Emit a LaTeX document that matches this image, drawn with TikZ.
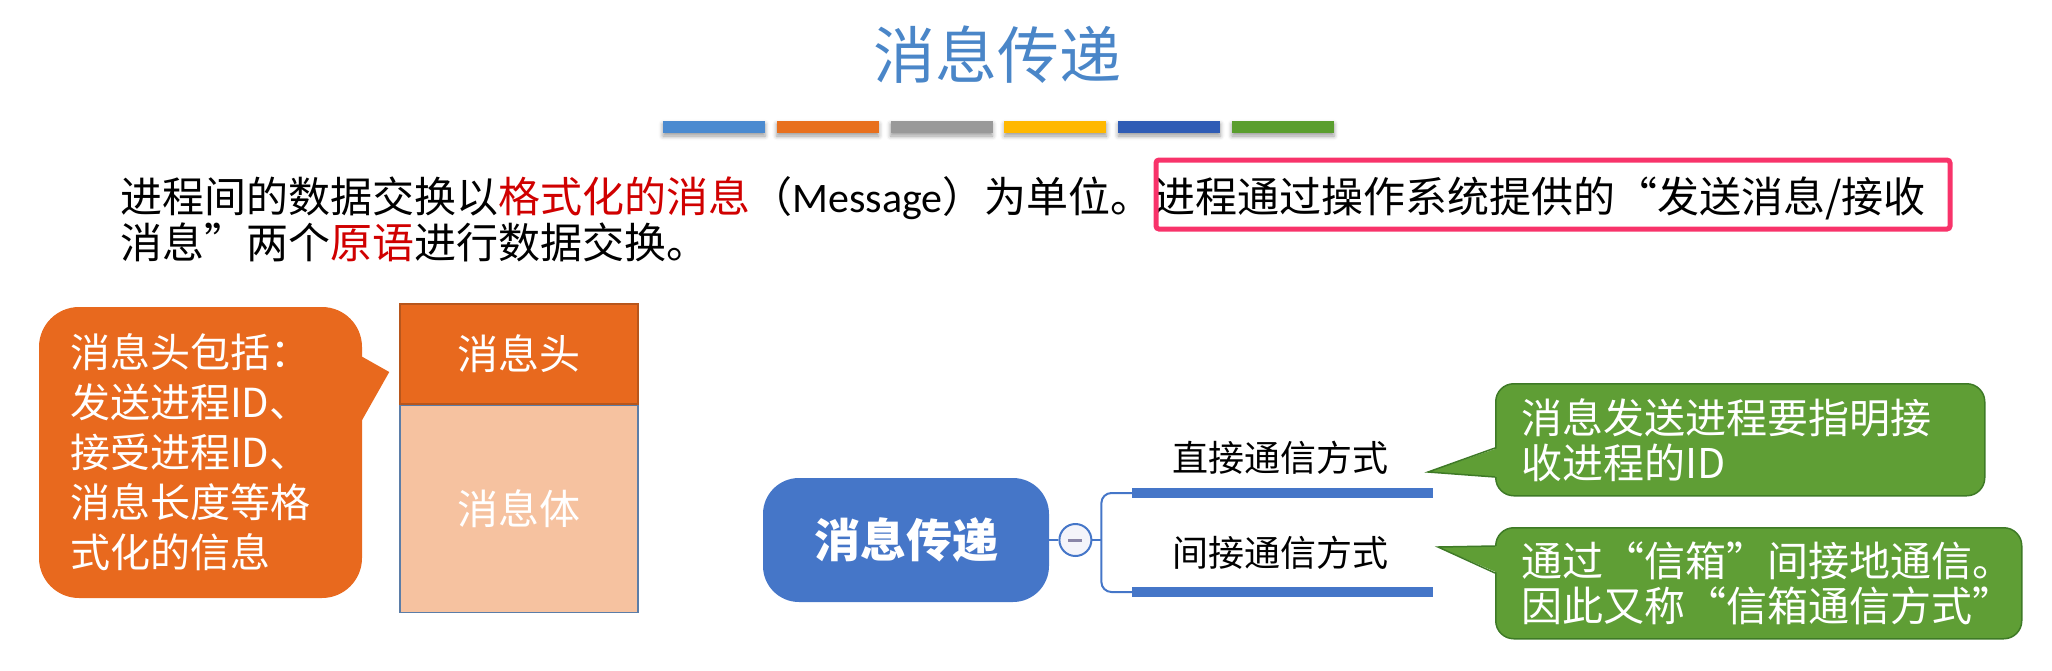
\documentclass[tikz,border=0pt]{standalone}
\usepackage{fontspec}
\setmainfont{Noto Sans CJK SC}
\newfontfamily\msgfont{Carlito}
\usepackage{tikz}
\usetikzlibrary{positioning, calc, shadows.blur}

\definecolor{titleblue}{HTML}{4A86C8}
\definecolor{barA}{HTML}{4A8AD0}
\definecolor{barB}{HTML}{E8701E}
\definecolor{barC}{HTML}{999999}
\definecolor{barD}{HTML}{FFB800}
\definecolor{barE}{HTML}{2F5CB5}
\definecolor{barF}{HTML}{5A9E2E}
\definecolor{msgred}{HTML}{D00000}
\definecolor{markred}{HTML}{F8336A}
\definecolor{calloutorange}{HTML}{E8691E}
\definecolor{headedge}{HTML}{B8561C}
\definecolor{bodypeach}{HTML}{F6C2A0}
\definecolor{bodyedge}{HTML}{5B7DA8}
\definecolor{rootblue}{HTML}{4576C8}
\definecolor{foldfill}{HTML}{F4F4FA}
\definecolor{foldminus}{HTML}{8A86A8}
\definecolor{notegreen}{HTML}{5F9E35}
\definecolor{noteedge}{HTML}{3E7A26}

\begin{document}
\begin{tikzpicture}[
  x=0.5pt, y=-0.5pt,
  title/.style={font=\fontsize{31}{31}\selectfont, text=titleblue, inner sep=0pt},
  colbar/.style={minimum width=51pt, minimum height=6pt, inner sep=0pt, blur shadow={shadow xshift=0pt, shadow yshift=-1.5pt, shadow blur steps=4}},
  intro/.style={font=\fontsize{21}{23}\selectfont, inner sep=0pt, anchor=base west},
  markbox/.style={draw=markred, line width=2.5pt, rounded corners=1.5pt},
  hdrtip/.style={fill=calloutorange, rounded corners=20pt, minimum width=161.5pt, minimum height=145.5pt, inner xsep=15.5pt, text width=130.5pt, align=left, text=white, font=\fontsize{20}{25}\selectfont},
  cell/.style={minimum width=119pt, inner sep=0pt, text=white, font=\fontsize{20.5}{24}\selectfont, line width=0.75pt},
  root/.style={fill=rootblue, rounded corners=18pt, minimum width=143pt, minimum height=62pt, text=white, font=\bfseries\fontsize{23}{23}\selectfont},
  fold/.style={circle, draw=rootblue, fill=foldfill, line width=1pt, minimum size=16pt, inner sep=0pt},
  wire/.style={draw=rootblue, line width=1pt},
  branchbar/.style={draw=rootblue, line width=5pt},
  branchlbl/.style={font=\fontsize{18}{18}\selectfont, inner sep=0pt},
  note/.style={draw=noteedge, fill=notegreen, line width=0.75pt, rounded corners=9pt, align=left, text=white, font=\fontsize{20.5}{22.5}\selectfont, inner xsep=13pt, anchor=north west}
]
\useasboundingbox (0,0) rectangle (2052,670);

% heading and colour strip
\node[title] (title) at (997,55) {消息传递};
\foreach \c [count=\i] in {barA,barB,barC,barD,barE,barF}
  \node[colbar, fill=\c] (bar\i) at (714+113.8*\i-113.8,127) {};

% intro text
\node[intro] (introA) at (120,212) {进程间的数据交换以\textcolor{msgred}{格式化的消息}（{\msgfont Message}）为单位。};
\node[intro] (introB) at (introA.base east) {进程通过操作系统提供的“发送消息/接收};
\node[intro] (introC) at (120,258) {消息”两个\textcolor{msgred}{原语}进行数据交换。};
\draw[markbox] (1156,160) rectangle (1950,229);

% message layout
\node[hdrtip] (headnote) at (200.5,452.5) {消息头包括：\\发送进程ID、\\接受进程ID、\\消息长度等格\\式化的信息};
\node[cell, draw=headedge, fill=calloutorange, minimum height=50pt] (msghead) at (519,354) {消息头};
\node[cell, draw=bodyedge, fill=bodypeach, minimum height=103.5pt, below=0pt of msghead] (msgbody) {消息体};
\coordinate (headtip) at ($(msghead.west)+(-10,18)$);
\fill[calloutorange] ($(headnote.north east)+(-4,48)$) -- (headtip) -- ($(headnote.north east)+(-4,120)$) -- cycle;

% mind map
\node[root] (center) at (906,540) {消息传递};
\node[fold, right=4.5pt of center] (fold) {};
\draw[foldminus, line width=1.5pt] ($(fold.center)+(-7,0)$) -- ($(fold.center)+(7,0)$);
\coordinate (dirL) at (1132,493);
\coordinate (dirR) at (1433,493);
\coordinate (indL) at (1132,592);
\coordinate (indR) at (1433,592);
\draw[wire] (center) -- (fold);
\draw[wire] (fold.east) -- ++(9,0) coordinate (split);
\draw[wire, rounded corners=5pt] (dirL) -| (split) |- (indL);
\draw[branchbar] (dirL) -- (dirR);
\draw[branchbar] (indL) -- (indR);
\node[branchlbl] (direct) at (1280,458) {直接通信方式};
\node[branchlbl] (indirect) at (1280,553) {间接通信方式};

% notes
\node[note, text width=218.5pt, minimum height=56pt] (directnote) at (1495,383) {消息发送进程要指明接\\收进程的ID};
\coordinate (directtip) at ($(dirR)+(-5,-21)$);
\fill[notegreen] ($(directnote.north west)+(3,65)$) -- (directtip) -- ($(directnote.north west)+(3,94)$) -- cycle;
\draw[noteedge, line width=0.75pt] ($(directnote.north west)+(0,65)$) -- (directtip) -- ($(directnote.north west)+(0,94)$);

\node[note, text width=237pt, minimum height=55.5pt] (indirectnote) at (1495,527) {通过“信箱”间接地通信。\\因此又称“信箱通信方式”};
\coordinate (indirecttip) at ($(indR)+(5,-45)$);
\fill[notegreen] ($(indirectnote.north west)+(3,19)$) -- (indirecttip) -- ($(indirectnote.north west)+(3,46)$) -- cycle;
\draw[noteedge, line width=0.75pt] ($(indirectnote.north west)+(0,19)$) -- (indirecttip) -- ($(indirectnote.north west)+(0,46)$);

\end{tikzpicture}
\end{document}
